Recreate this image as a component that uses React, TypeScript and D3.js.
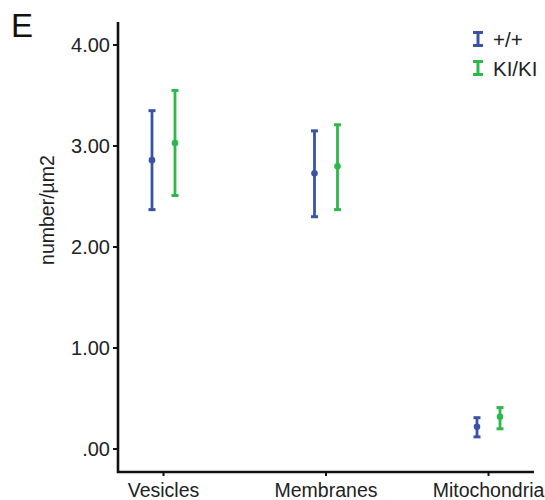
import React from "react";
import * as d3 from "d3";

const categories = ["Vesicles", "Membranes", "Mitochondria"];
const groups = ["+/+", "KI/KI"];
const colors = ["#3a53a4", "#2db84a"];
const meanWT = [2.86, 2.73, 0.22];
const lowWT = [2.37, 2.30, 0.12];
const highWT = [3.35, 3.15, 0.31];
const meanKI = [3.03, 2.80, 0.32];
const lowKI = [2.51, 2.37, 0.20];
const highKI = [3.55, 3.21, 0.41];
const yTicks = [0, 1, 2, 3, 4];
const yTickLabels = [".00", "1.00", "2.00", "3.00", "4.00"];

export default function App() {
  const W = 545, H = 500;
  const x0 = 118, x1 = 534, yTop = 22, yBot = 472;
  const y = d3.scaleLinear().domain([0, 4]).range([449, 45]);
  const x = d3.scalePoint<string>().domain(categories).range([x0, x1]).padding(0.28);
  const offsets = [-11.5, 11.5];
  const series = [
    { mean: meanWT, low: lowWT, high: highWT },
    { mean: meanKI, low: lowKI, high: highKI },
  ];
  const font = "'Liberation Sans', Arial, Helvetica, sans-serif";
  return (
    <svg width={W} height={H} style={{ position: "absolute", left: 0, top: 0, background: "#fff" }} fontFamily={font}>
      <text x={11} y={37} fontSize={33} fill="#111">E</text>
      {/* axes */}
      <path d={`M${x0},${yTop}V${yBot}H${x1}`} fill="none" stroke="#111" strokeWidth={2.6} />
      {yTicks.map((t, i) => (
        <g key={t}>
          <line x1={x0 - 5} x2={x0} y1={y(t)} y2={y(t)} stroke="#111" strokeWidth={2} />
          <text x={110} y={y(t)} dy="0.36em" textAnchor="end" fontSize={20} fill="#222">{yTickLabels[i]}</text>
        </g>
      ))}
      {categories.map((c) => (
        <g key={c}>
          <line x1={x(c)!} x2={x(c)!} y1={yBot} y2={yBot + 4} stroke="#111" strokeWidth={2} />
          <text x={x(c)!} y={497} textAnchor="middle" fontSize={19.5} fill="#222">{c}</text>
        </g>
      ))}
      <text transform={`translate(54,210) rotate(-90)`} textAnchor="middle" fontSize={19.5} fill="#222">number/µm2</text>
      {/* error bars */}
      {series.map((s, gi) => (
        <g key={gi} stroke={colors[gi]} fill={colors[gi]}>
          {categories.map((c, ci) => {
            const cx = x(c)! + offsets[gi];
            return (
              <g key={c}>
                <line x1={cx} x2={cx} y1={y(s.low[ci])} y2={y(s.high[ci])} strokeWidth={2.8} />
                <line x1={cx - 3.5} x2={cx + 3.5} y1={y(s.low[ci])} y2={y(s.low[ci])} strokeWidth={3} />
                <line x1={cx - 3.5} x2={cx + 3.5} y1={y(s.high[ci])} y2={y(s.high[ci])} strokeWidth={3} />
                <circle cx={cx} cy={y(s.mean[ci])} r={3.3} stroke="none" />
              </g>
            );
          })}
        </g>
      ))}
      {/* legend */}
      {groups.map((g, i) => {
        const cy = 39 + i * 29;
        return (
          <g key={g}>
            <g stroke={colors[i]} strokeWidth={3}>
              <line x1={478} x2={478} y1={cy - 7} y2={cy + 7} />
              <line x1={473} x2={483} y1={cy - 6.5} y2={cy - 6.5} />
              <line x1={473} x2={483} y1={cy + 6.5} y2={cy + 6.5} />
            </g>
            <text x={493} y={cy + 7.5} fontSize={20.5} fill="#222">{g}</text>
          </g>
        );
      })}
    </svg>
  );
}
